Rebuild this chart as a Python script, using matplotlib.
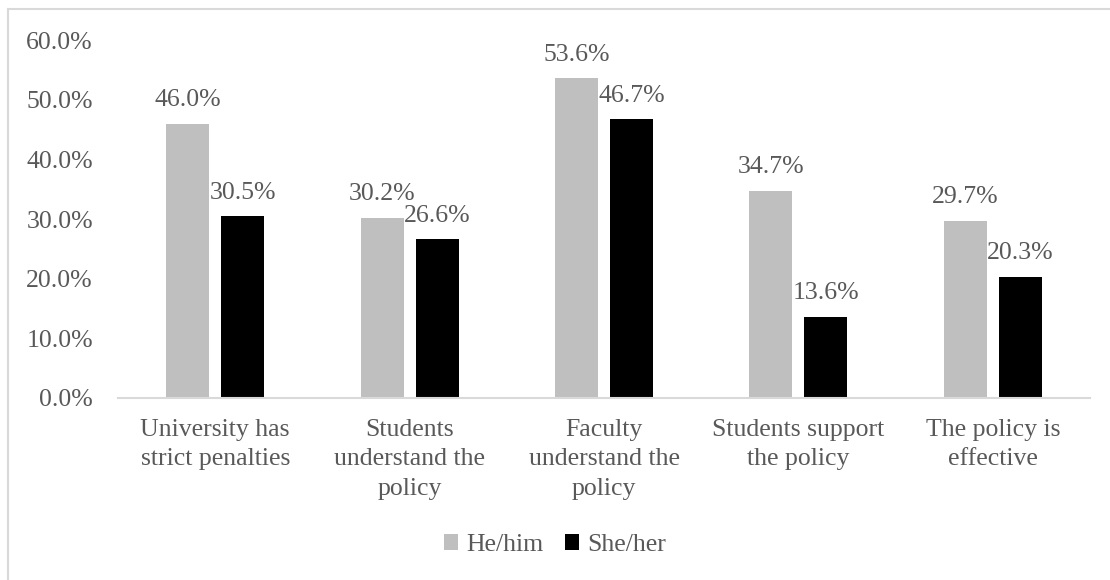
import matplotlib.pyplot as plt
import numpy as np
from matplotlib.patches import Rectangle
from matplotlib.ticker import FuncFormatter, MultipleLocator

CATEGORIES = [
    "University has\nstrict penalties",
    "Students\nunderstand the\npolicy",
    "Faculty\nunderstand the\npolicy",
    "Students support\nthe policy",
    "The policy is\neffective",
]
HE_HIM = [46.0, 30.2, 53.6, 34.7, 29.7]
SHE_HER = [30.5, 26.6, 46.7, 13.6, 20.3]
SERIES_NAMES = ["He/him", "She/her"]

TEXT_COLOR = "#595959"
GRID_COLOR = "#D9D9D9"
COLORS = ["#BFBFBF", "#000000"]
FS = 18.5

plt.rcParams["font.family"] = ["Liberation Serif", "DejaVu Serif"]
plt.rcParams["font.size"] = FS

fig = plt.figure(figsize=(11.1, 5.8), dpi=100)
ax = fig.add_axes([0.1063, 0.3138, 0.8757, 0.6172])

# chart frame
fig.patches.append(Rectangle((8 / 1110, -0.05), 1.1, 1.05 - 9 / 580,
                             transform=fig.transFigure, fill=False,
                             edgecolor=GRID_COLOR, linewidth=1.5))

x = np.arange(len(CATEGORIES))
width = 0.221
offset = 0.1415

for i, (vals, name) in enumerate(zip([HE_HIM, SHE_HER], SERIES_NAMES)):
    bars = ax.bar(x + (offset if i else -offset), vals, width,
                  color=COLORS[i], label=name)
    ax.bar_label(bars, labels=[f"{v:.1f}%" for v in vals], padding=9,
                 color=TEXT_COLOR, fontsize=FS)

ax.set_xlim(-0.5, len(CATEGORIES) - 0.5)
ax.set_ylim(0, 60)
ax.yaxis.set_major_locator(MultipleLocator(10))
ax.yaxis.set_major_formatter(FuncFormatter(lambda v, _: f"{v:.1f}%"))
ax.set_xticks(x)
ax.set_xticklabels(CATEGORIES, linespacing=1.45)

for side in ["top", "right", "left"]:
    ax.spines[side].set_visible(False)
ax.spines["bottom"].set_color(GRID_COLOR)
ax.spines["bottom"].set_linewidth(1.5)
ax.tick_params(axis="both", length=0, colors=TEXT_COLOR, labelsize=FS)
ax.tick_params(axis="y", pad=18)
ax.tick_params(axis="x", pad=15)

fig.legend(loc="center", bbox_to_anchor=(0.5, 0.06), ncol=2, frameon=False,
           handlelength=0.55, handleheight=0.55, handletextpad=0.3,
           columnspacing=0.85, labelcolor=TEXT_COLOR, fontsize=FS)

fig.savefig("out.png", dpi=100)
